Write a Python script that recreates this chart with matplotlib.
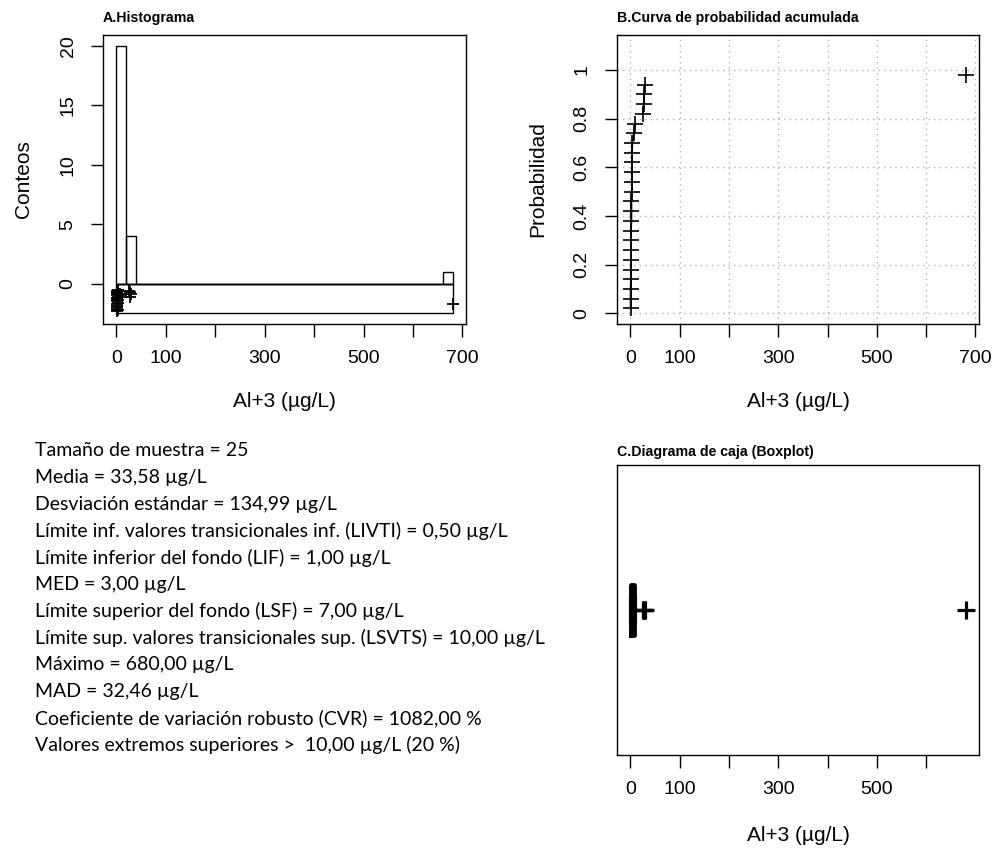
import numpy as np
import matplotlib.pyplot as plt
from matplotlib.patches import Rectangle

# Datos de Al+3 (µg/L), ordenados
valores = [0.5, 0.5, 0.5, 1, 1, 1, 1, 1, 1, 2, 2, 2, 3, 3, 3, 3, 3, 4, 7, 10,
           25, 27, 28, 30, 680]
# desplazamiento vertical del stripchart bajo el histograma
jitter_y = [-1.9, -0.8, -2.3, -1.2, -0.6, -1.5, -2.1, -1.0, -1.7, -0.7, -2.0, -1.3,
            -0.9, -1.6, -2.2, -1.1, -0.5, -1.4, -0.9, -1.0, -0.6, -1.1, -0.7, -0.9, -1.7]
bordes_hist = np.arange(0, 700, 20)
ticks_x = [0, 100, 200, 300, 400, 500, 600, 700]
etiquetas_x = ["0", "100", "", "300", "", "500", "", "700"]
ticks_hist_y = [0, 5, 10, 15, 20]
ticks_prob = [0, 0.2, 0.4, 0.6, 0.8, 1.0]
etiquetas_prob = ["0", "0.2", "0.4", "0.6", "0.8", "1"]
lineas_resumen = [
    "Tamaño de muestra = 25",
    "Media = 33,58 µg/L",
    "Desviación estándar = 134,99 µg/L",
    "Límite inf. valores transicionales inf. (LIVTI) = 0,50 µg/L",
    "Límite inferior del fondo (LIF) = 1,00 µg/L",
    "MED = 3,00 µg/L",
    "Límite superior del fondo (LSF) = 7,00 µg/L",
    "Límite sup. valores transicionales sup. (LSVTS) = 10,00 µg/L",
    "Máximo = 680,00 µg/L",
    "MAD = 32,46 µg/L",
    "Coeficiente de variación robusto (CVR) = 1082,00 %",
    "Valores extremos superiores >  10,00 µg/L (20 %)",
]

plt.rcParams['font.family'] = ['Liberation Sans', 'DejaVu Sans']

W, H = 994, 848
fig = plt.figure(figsize=(W / 100, H / 100), dpi=100)


def caja(l, t, r, b):
    return [l / W, 1 - b / H, (r - l) / W, (b - t) / H]


def estilo_r(ax):
    for s in ax.spines.values():
        s.set_linewidth(1.0)
    ax.tick_params(direction='out', length=9, width=1, labelsize=14, pad=10)
    ax.tick_params(axis='y', labelrotation=90)
    for lab in ax.get_yticklabels():
        lab.set_va('center')


x = np.array(valores)
xmin_lim, xmax_lim = -27.2, 707.2
tam_lab = 15
tam_tit = 10.2

# A. Histograma
axA = fig.add_axes(caja(103, 35, 466, 324))
conteos, _ = np.histogram(x, bins=bordes_hist)
axA.bar(bordes_hist[:-1], conteos, width=20, align='edge', fill=False,
        edgecolor='black', linewidth=1.0)
axA.hlines(0, 0, 680, color='black', linewidth=1.0)
axA.add_patch(Rectangle((0, -2.5), 680, 2.5, fill=False, edgecolor='black', linewidth=1.0))
axA.plot(x, jitter_y, linestyle='none', marker='+', color='black', markersize=8, mew=1.3)
axA.set_xlim(xmin_lim, xmax_lim)
axA.set_ylim(-3.4, 20.9)
axA.set_xticks(ticks_x)
axA.set_xticklabels(etiquetas_x)
axA.set_yticks(ticks_hist_y)
axA.set_yticklabels([str(t) for t in ticks_hist_y])
estilo_r(axA)
axA.set_ylabel("Conteos", fontsize=tam_lab, labelpad=19)
axA.set_xlabel("Al+3 (µg/L)", fontsize=tam_lab, labelpad=18)
axA.text(0, 1.058, "A.Histograma", transform=axA.transAxes, fontsize=tam_tit,
         fontweight='bold', ha='left', va='center')

# B. Curva de probabilidad acumulada
axB = fig.add_axes(caja(617, 35, 979, 324))
n = len(x)
prob = (np.arange(1, n + 1) - 0.5) / n
axB.set_xlim(xmin_lim, xmax_lim)
axB.set_ylim(-0.044, 1.144)
for t in ticks_x:
    axB.axvline(t, color='#b0b0b0', linestyle=(0, (1, 3)), linewidth=1, zorder=0)
for t in ticks_prob:
    axB.axhline(t, color='#b0b0b0', linestyle=(0, (1, 3)), linewidth=1, zorder=0)
bajos = x <= 10
medios = (x > 10) & (x < 100)
axB.plot(x[bajos], prob[bajos], color='black', linewidth=1.3)
axB.plot(x[medios], prob[medios], color='black', linewidth=1.3)
axB.plot(x, prob, linestyle='none', marker='+', color='black', markersize=11, mew=1.2)
axB.set_xticks(ticks_x)
axB.set_xticklabels(etiquetas_x)
axB.set_yticks(ticks_prob)
axB.set_yticklabels(etiquetas_prob)
estilo_r(axB)
axB.set_ylabel("Probabilidad", fontsize=tam_lab, labelpad=19)
axB.set_xlabel("Al+3 (µg/L)", fontsize=tam_lab, labelpad=18)
axB.text(0, 1.058, "B.Curva de probabilidad acumulada", transform=axB.transAxes,
         fontsize=tam_tit, fontweight='bold', ha='left', va='center')

# C. Diagrama de caja
axC = fig.add_axes(caja(617, 465, 979, 755))
axC.boxplot(x, vert=False, positions=[1], widths=0.186, whis=1.5,
            boxprops=dict(linewidth=3.5, color='black'),
            medianprops=dict(linewidth=4, color='black'),
            whiskerprops=dict(linewidth=2.5, color='black', linestyle='-'),
            capprops=dict(linewidth=3, color='black'),
            flierprops=dict(marker='+', markersize=13, markeredgewidth=2.3,
                            markeredgecolor='black'))
axC.set_xlim(xmin_lim, xmax_lim)
axC.set_ylim(0.46, 1.54)
axC.set_xticks(ticks_x[:-1])
axC.set_xticklabels(etiquetas_x[:-1])
axC.set_yticks([])
estilo_r(axC)
axC.set_xlabel("Al+3 (µg/L)", fontsize=tam_lab, labelpad=20)
axC.text(0, 1.045, "C.Diagrama de caja (Boxplot)", transform=axC.transAxes,
         fontsize=tam_tit, fontweight='bold', ha='left', va='center')

# Resumen estadístico
for i, linea in enumerate(lineas_resumen):
    fig.text(35 / W, 1 - (451 + 26.7 * i) / H, linea, fontsize=14,
             family=['Lato', 'DejaVu Sans'], ha='left', va='center')

fig.savefig("out.png", dpi=100)
